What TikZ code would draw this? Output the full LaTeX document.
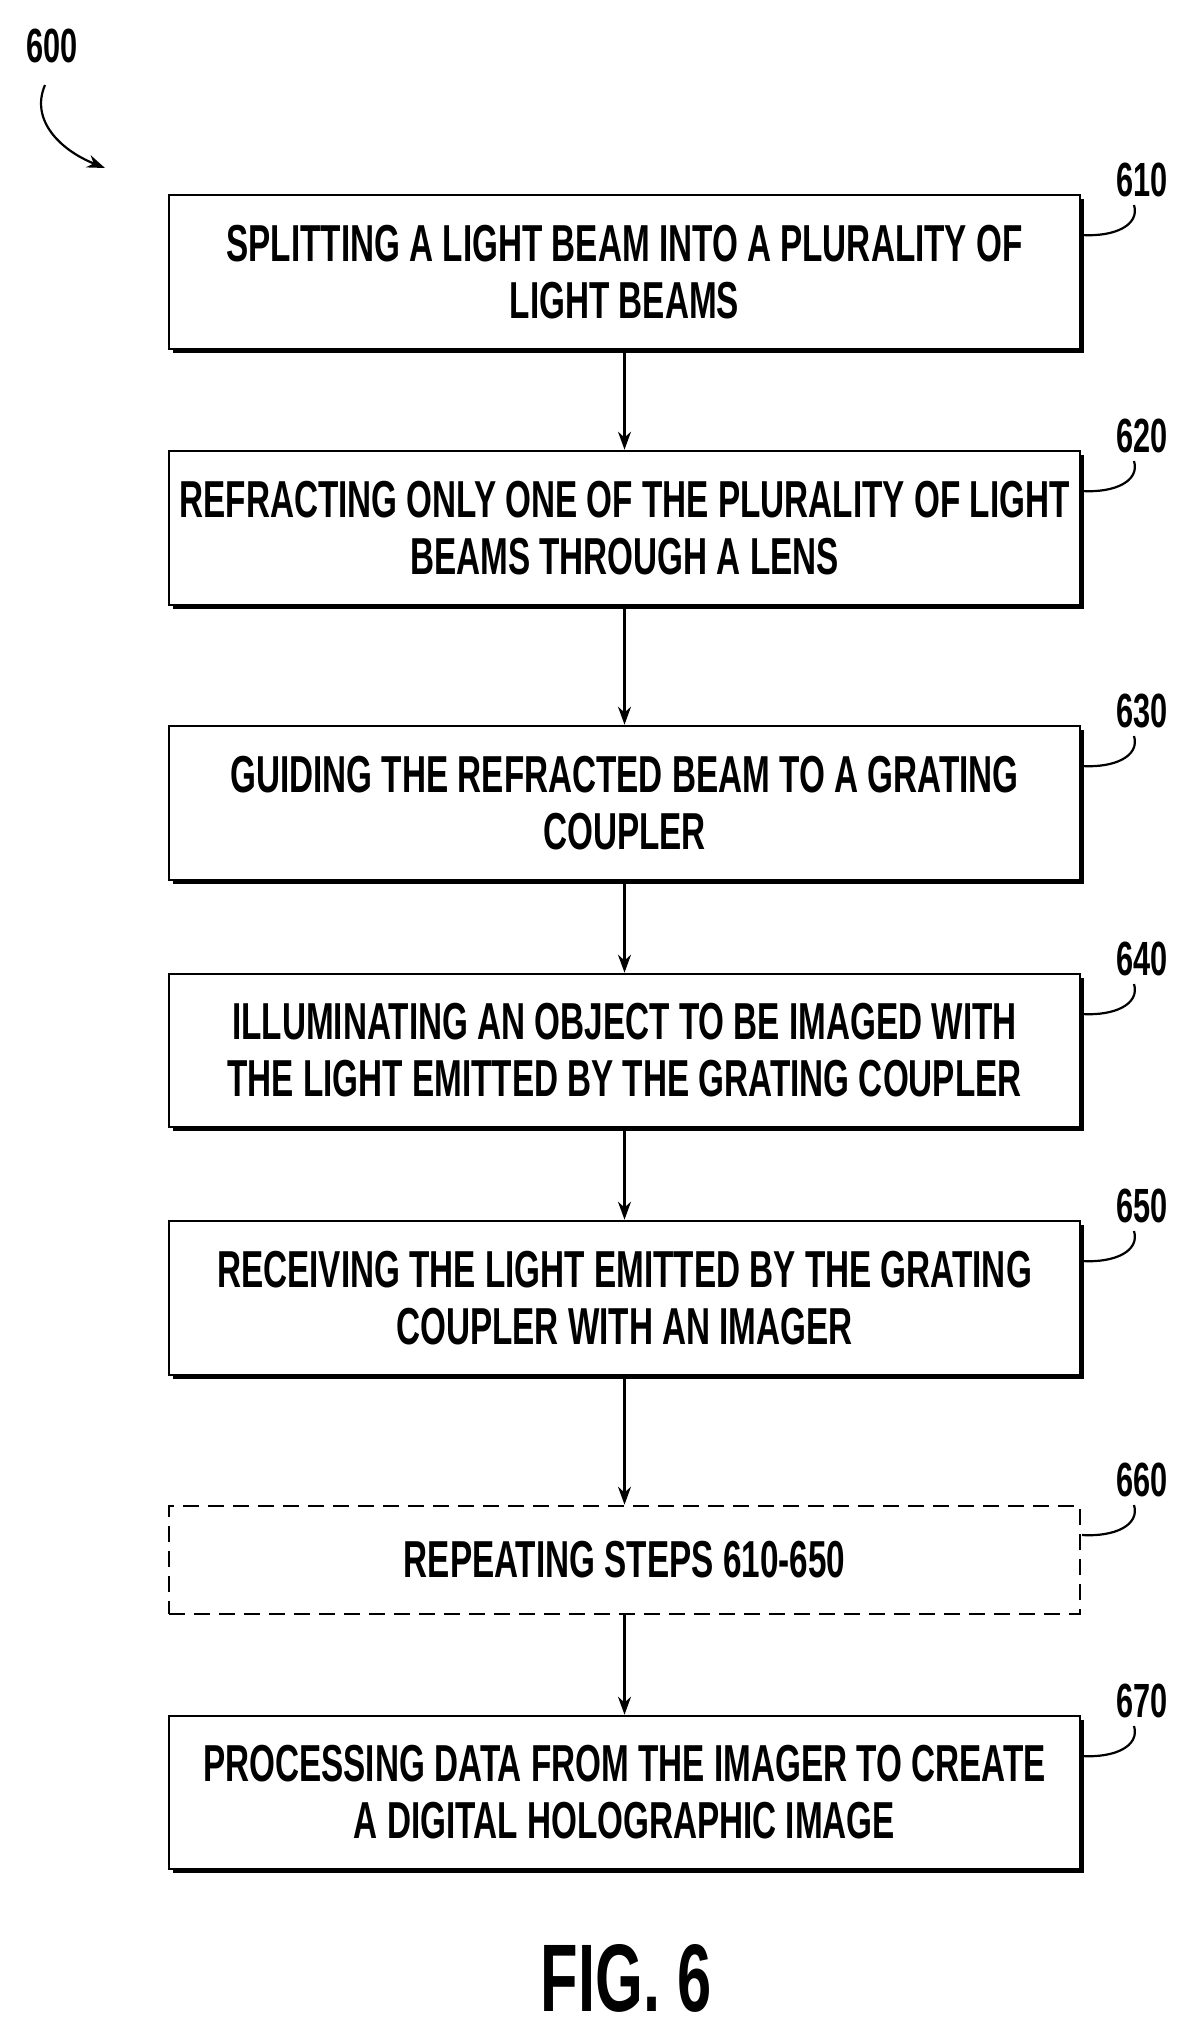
\documentclass[tikz,border=0pt]{standalone}
\usepackage{fontspec}
\setmainfont{Liberation Sans}[FakeStretch=0.64]
\usetikzlibrary{arrows.meta}
\begin{document}
\begin{tikzpicture}[x=1pt,y=-1pt,
  box/.style={draw,line width=2.6pt,minimum width=911pt,inner sep=0pt,align=center,font=\fontsize{52}{57}\selectfont\bfseries},
  arr/.style={-{Stealth[length=18pt,width=13pt]},line width=2.2pt},
  lbl/.style={font=\fontsize{48}{52}\selectfont\bfseries},
  lead/.style={line width=2.2pt}]
\useasboundingbox (0,0) rectangle (1191,2034);
\def\bx#1#2#3#4#5{%
  \fill (173,#2+4) rectangle (1084,#3+4);
  \node[box,fill=white,minimum height=#3-#2] (#1) at (624.5,{(#2+#3)/2}) {#4};
  \node[lbl] (l#1) at (1142,#2-15) {#5};
  \draw[lead] (1082,{#2+40}) .. controls (1115,{#2+42}) and (1140,{#2+30}) .. (1134,{#2+10});
}
\bx{a}{195}{349}{SPLITTING A LIGHT BEAM INTO A PLURALITY OF\\LIGHT BEAMS}{610}
\bx{b}{451}{605}{REFRACTING ONLY ONE OF THE PLURALITY OF LIGHT\\BEAMS THROUGH A LENS}{620}
\bx{c}{726}{880}{GUIDING THE REFRACTED BEAM TO A GRATING\\COUPLER}{630}
\bx{d}{974}{1127}{ILLUMINATING AN OBJECT TO BE IMAGED WITH\\THE LIGHT EMITTED BY THE GRATING COUPLER}{640}
\bx{e}{1221}{1375}{RECEIVING THE LIGHT EMITTED BY THE GRATING\\COUPLER WITH AN IMAGER}{650}
\node[box,dash pattern=on 16pt off 9pt,minimum height=108pt] (f) at (624.5,1560) {REPEATING STEPS 610-650};
\node[lbl] (lf) at (1142,1480) {660};
\draw[lead] (1082,1535) .. controls (1115,1537) and (1140,1525) .. (1134,1505);
\bx{g}{1716}{1869}{PROCESSING DATA FROM THE IMAGER TO CREATE\\A DIGITAL HOLOGRAPHIC IMAGE}{670}
\draw[arr] (a.south) -- (b.north);
\draw[arr] (b.south) -- (c.north);
\draw[arr] (c.south) -- (d.north);
\draw[arr] (d.south) -- (e.north);
\draw[arr] (e.south) -- (f.north);
\draw[arr] (f.south) -- (g.north);
\node[lbl] (n600) at (52,46) {600};
\coordinate (t600) at (105,168);
\draw[arr] (45,85) .. controls (30,120) and (60,150) .. (t600);
\node[font=\fontsize{96}{100}\selectfont\bfseries] (fig) at (626,1978) {FIG. 6};
\end{tikzpicture}
\end{document}
